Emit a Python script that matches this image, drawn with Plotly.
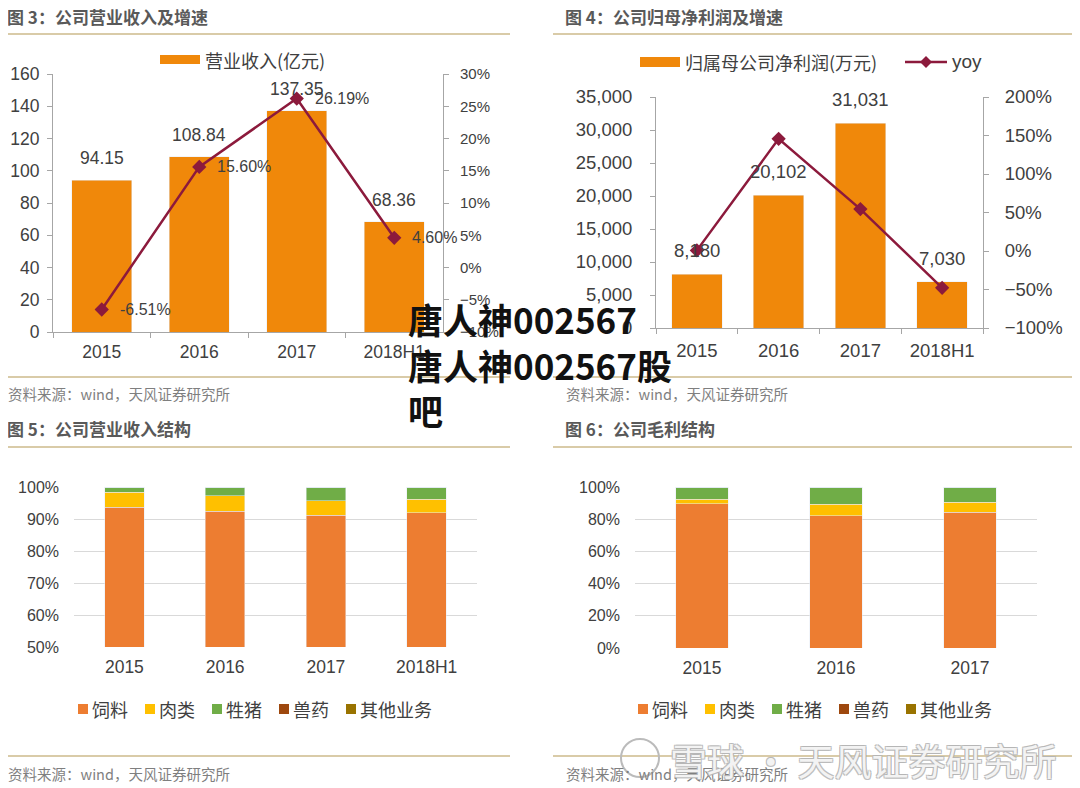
import plotly.graph_objects as go

# the page body keeps its 8px margin, so the figure is drawn 8px smaller
# and every reference pixel is shifted by OFF before converting to paper units
PAGE_W, PAGE_H, OFF = 1080, 788, 8
W, H = PAGE_W - OFF, PAGE_H - OFF

# ---- data -------------------------------------------------------------
years = ["2015", "2016", "2017", "2018H1"]
revenue = [94.15, 108.84, 137.35, 68.36]          # 亿元
revenue_yoy = [-6.51, 15.60, 26.19, 4.60]         # %

profit = [8180, 20102, 31031, 7030]               # 万元
profit_yoy = [0.8, 145.7, 54.4, -47.8]            # %

segments = ["饲料", "肉类", "牲猪", "兽药", "其他业务"]
seg_colors = ["#ED7D31", "#FFC000", "#70AD47", "#9E480E", "#997300"]

rev_feed = [93.6, 92.5, 91.1, 91.9]
rev_meat = [4.8, 4.8, 4.6, 4.2]
rev_hog = [1.5, 2.6, 4.2, 3.8]
rev_vet = [0.05, 0.05, 0.05, 0.05]
rev_other = [0.05, 0.05, 0.05, 0.05]

gp_years = ["2015", "2016", "2017"]
gp_feed = [89.6, 82.1, 84.2]
gp_meat = [2.9, 7.1, 6.2]
gp_hog = [7.4, 10.7, 9.5]
gp_vet = [0.05, 0.05, 0.05]
gp_other = [0.05, 0.05, 0.05]

# ---- styling ----------------------------------------------------------
BAR = "#F0880A"
LINE = "#8C1A3C"
AXIS = "#A6A6A6"
TXT = "#404040"
RULE = "#D9CBA8"
NUM_FONT = "Liberation Sans, Arial, sans-serif"
CJK_FONT = "Noto Sans CJK SC, sans-serif"


def fx(px):
    return (px - OFF) / W


def fy(py):
    return 1 - (py - OFF) / H


annotations = []
shapes = []


def text(x, y, s, size, color=TXT, xanchor="left", family=CJK_FONT, **kw):
    annotations.append(dict(
        x=fx(x), y=fy(y), xref="paper", yref="paper", text=s, showarrow=False,
        xanchor=xanchor, yanchor="middle", font=dict(size=size, color=color, family=family), **kw,
    ))


def rule(x0, x1, y, color=RULE, width=2):
    shapes.append(dict(type="line", xref="paper", yref="paper", x0=fx(x0), x1=fx(x1),
                       y0=fy(y), y1=fy(y), line=dict(color=color, width=width)))


def rect(x0, y0, x1, y1, color):
    shapes.append(dict(type="rect", xref="paper", yref="paper", x0=fx(x0), x1=fx(x1),
                       y0=fy(y1), y1=fy(y0), fillcolor=color, line=dict(width=0)))


fig = go.Figure()

# ---- 图3 ---------------------------------------------------------------
fig.add_trace(go.Bar(x=years, y=revenue, marker_color=BAR, width=0.62,
                     xaxis="x", yaxis="y", showlegend=False))
fig.add_trace(go.Scatter(x=years, y=revenue_yoy, mode="lines+markers",
                         line=dict(color=LINE, width=2.5),
                         marker=dict(symbol="diamond", size=11, color=LINE),
                         xaxis="x", yaxis="y2", showlegend=False))
# category index is used for annotation x (numeric-looking labels would be read as numbers)
for i, v in enumerate(revenue):
    annotations.append(dict(x=i, y=v, xref="x", yref="y", text=f"{v:.2f}", showarrow=False,
                            yanchor="bottom", yshift=10, font=dict(size=17.5, color=TXT, family=NUM_FONT)))
for i, v in enumerate(revenue_yoy):
    annotations.append(dict(x=i, y=v, xref="x", yref="y2", text=f"{v:.2f}%", showarrow=False,
                            xanchor="left", xshift=16, font=dict(size=16, color=TXT, family=NUM_FONT)))

# ---- 图4 ---------------------------------------------------------------
fig.add_trace(go.Bar(x=years, y=profit, marker_color=BAR, width=0.62,
                     xaxis="x2", yaxis="y3", showlegend=False))
fig.add_trace(go.Scatter(x=years, y=profit_yoy, mode="lines+markers",
                         line=dict(color=LINE, width=2.5),
                         marker=dict(symbol="diamond", size=11, color=LINE),
                         xaxis="x2", yaxis="y4", showlegend=False))
for i, v in enumerate(profit):
    annotations.append(dict(x=i, y=v, xref="x2", yref="y3", text=f"{v:,.0f}", showarrow=False,
                            yanchor="bottom", yshift=11, font=dict(size=18.5, color=TXT, family=NUM_FONT)))

# ---- 图5 / 图6 ----------------------------------------------------------
rev_series = [rev_feed, rev_meat, rev_hog, rev_vet, rev_other]
gp_series = [gp_feed, gp_meat, gp_hog, gp_vet, gp_other]
for name, color, vals in zip(segments, seg_colors, rev_series):
    fig.add_trace(go.Bar(x=years, y=vals, name=name, marker_color=color, width=0.39,
                         xaxis="x3", yaxis="y5", showlegend=False))
for name, color, vals in zip(segments, seg_colors, gp_series):
    fig.add_trace(go.Bar(x=gp_years, y=vals, name=name, marker_color=color, width=0.39,
                         xaxis="x4", yaxis="y6", showlegend=False))

# ---- panel decoration ---------------------------------------------------
titles = [(6, 17, "图 3：公司营业收入及增速"), (564, 17, "图 4：公司归母净利润及增速"),
          (6, 428, "图 5：公司营业收入结构"), (564, 428, "图 6：公司毛利结构")]
for x, y, t in titles:
    text(x, y, f"<b>{t}</b>", 17, color="#595959", borderpad=0)
for y in (34, 377, 447, 756):
    rule(0, 510, y)
    rule(553, 1080, y)
for x, y in ((6, 393), (564, 393), (6, 773), (564, 773)):
    text(x, y, "资料来源：wind，天风证券研究所", 14.5, color="#7F7F7F")

# legend 图3
rect(160, 55, 200, 64, BAR)
text(203, 60, "营业收入(亿元)", 18)
# legend 图4
rect(640, 57, 680, 67, BAR)
text(683, 62, "归属母公司净利润(万元)", 18)
rule(905, 947, 62, color=LINE, width=2.5)
shapes.append(dict(type="path", xref="paper", yref="paper",
                   path=f"M {fx(926)},{fy(56)} L {fx(932)},{fy(62)} L {fx(926)},{fy(68)} L {fx(920)},{fy(62)} Z",
                   fillcolor=LINE, line=dict(width=0)))
text(950, 62, "yoy", 19, family=NUM_FONT)

# legends 图5 / 图6
for x_start in (78, 638):
    for i, (name, color) in enumerate(zip(segments, seg_colors)):
        x0 = x_start + i * 67
        rect(x0, 704, x0 + 10, 714, color)
        text(x0 + 12, 709, name, 18)

# watermarks
text(406, 364, "<b>唐人神002567<br>唐人神002567股<br>吧</b>", 35, color="#111111", align="left")
shapes.append(dict(type="circle", xref="paper", yref="paper", x0=fx(621), x1=fx(659),
                   y0=fy(777), y1=fy(739), line=dict(color="#BBBBBB", width=2)))
annotations.append(dict(
    x=fx(668), y=fy(760), xref="paper", yref="paper", text="雪球 · 天风证券研究所", showarrow=False,
    xanchor="left", yanchor="middle",
    font=dict(size=37, color="rgba(255,255,255,0.85)", family=CJK_FONT,
              shadow="-1px -1px 0 #B5B5B5, 1px -1px 0 #B5B5B5, -1px 1px 0 #B5B5B5, 1px 1px 0 #B5B5B5"),
))

# ---- axes ---------------------------------------------------------------
num_tick = dict(family=NUM_FONT, color=TXT)
line_axis = dict(showline=True, linecolor=AXIS, linewidth=1, ticks="outside", ticklen=5,
                 tickcolor=AXIS, showgrid=False, zeroline=False, automargin=False)
cat_line_axis = dict(type="category", range=[-0.5, 3.5], tickson="boundaries", **line_axis)
flat_axis = dict(showgrid=True, gridcolor="#D9D9D9", zeroline=False, showline=False,
                 automargin=False, ticksuffix="%", ticklabelstandoff=14)
flat_cat = dict(type="category", showline=False, showgrid=False, automargin=False,
                ticklabelstandoff=7, tickfont=dict(size=17.5, **num_tick))

fig.update_layout(
    width=W, height=H, margin=dict(l=0, r=0, t=0, b=0),
    paper_bgcolor="white", plot_bgcolor="white", barmode="stack", showlegend=False,
    xaxis=dict(domain=[fx(53), fx(443)], anchor="y", tickfont=dict(size=17.5, **num_tick),
               ticklabelstandoff=4, **cat_line_axis),
    yaxis=dict(domain=[fy(332), fy(74)], anchor="x", range=[0, 160], dtick=20,
               tickfont=dict(size=17.5, **num_tick), ticklabelstandoff=4, **line_axis),
    yaxis2=dict(overlaying="y", anchor="x", side="right", range=[-10, 30], dtick=5, ticksuffix="%",
                tickfont=dict(size=15, **num_tick), ticklabelstandoff=8, **line_axis),
    xaxis2=dict(domain=[fx(656), fx(983)], anchor="y3", tickfont=dict(size=18.5, **num_tick),
                ticklabelstandoff=6, **cat_line_axis),
    yaxis3=dict(domain=[fy(328), fy(97)], anchor="x2", range=[0, 35000], dtick=5000,
                tickformat=",", tickfont=dict(size=18.5, **num_tick), ticklabelstandoff=14, **line_axis),
    yaxis4=dict(overlaying="y3", anchor="x2", side="right", range=[-100, 200], dtick=50,
                ticksuffix="%", tickfont=dict(size=18.5, **num_tick), ticklabelstandoff=12, **line_axis),
    xaxis3=dict(domain=[fx(74), fx(477)], anchor="y5", **flat_cat),
    yaxis5=dict(domain=[fy(647), fy(487)], anchor="x3", range=[50, 100], dtick=10,
                tickfont=dict(size=16, **num_tick), **flat_axis),
    xaxis4=dict(domain=[fx(635), fx(1037)], anchor="y6", **flat_cat),
    yaxis6=dict(domain=[fy(648), fy(487)], anchor="x4", range=[0, 100], dtick=20,
                tickfont=dict(size=16, **num_tick), **flat_axis),
    annotations=annotations,
    shapes=shapes,
)

fig.write_html("out.html")
